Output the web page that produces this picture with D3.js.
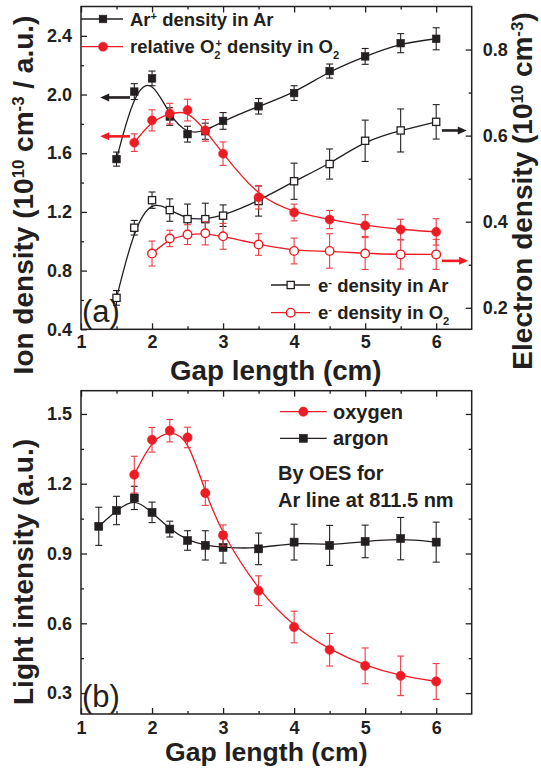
<!DOCTYPE html>
<html><head><meta charset="utf-8">
<script src="https://cdn.jsdelivr.net/npm/d3@7"></script>
<style>body{margin:0;background:#fff}svg{display:block}text{font-family:"Liberation Sans",Arial,Helvetica,sans-serif}</style>
</head><body>
<svg id="c" width="541" height="771"></svg>
<script>
// ---------- DATA ----------
// Panel (a): ion densities (left axis) and electron densities (right axis)
const xArIon = [1.5,1.75,2,2.25,2.5,2.75,3,3.5,4,4.5,5,5.5,6];
const arIon = [1.56,2.02,2.11,1.85,1.73,1.75,1.82,1.92,2.01,2.16,2.26,2.35,2.38];
const arIonErr = [0.048,0.054,0.05,0.06,0.054,0.055,0.057,0.053,0.05,0.048,0.054,0.065,0.075];

const xO2Ion = [1.75,2,2.25,2.5,2.75,3,3.5,4,4.5,5,5.5,6];
const o2Ion = [1.672,1.824,1.87,1.894,1.756,1.597,1.30,1.196,1.148,1.107,1.08,1.064];
const o2IonErr = [0.06,0.072,0.07,0.074,0.074,0.08,0.08,0.057,0.062,0.074,0.07,0.09];

const xEAr = [1.5,1.75,2,2.25,2.5,2.75,3,3.5,4,4.5,5,5.5,6];
const eAr = [0.223,0.386,0.45,0.427,0.406,0.406,0.414,0.448,0.494,0.534,0.588,0.612,0.632];
const eArErr = [0.017,0.017,0.019,0.026,0.035,0.037,0.025,0.035,0.042,0.035,0.048,0.05,0.04];

const xEO2 = [2,2.25,2.5,2.75,3,3.5,4,4.5,5,5.5,6];
const eO2 = [0.326,0.361,0.370,0.373,0.366,0.347,0.332,0.332,0.326,0.324,0.324];
const eO2Err = [0.029,0.019,0.023,0.027,0.03,0.025,0.03,0.04,0.037,0.034,0.035];

// Panel (b): light intensity
const xArgon = [1.25,1.5,1.75,2,2.25,2.5,2.75,3,3.5,4,4.5,5,5.5,6];
const argon = [1.017,1.085,1.139,1.077,1.005,0.956,0.935,0.926,0.92,0.949,0.935,0.952,0.964,0.949];
const argonErr = [0.082,0.061,0.05,0.044,0.034,0.042,0.063,0.067,0.068,0.077,0.086,0.07,0.091,0.086];

const xOxygen = [1.75,2,2.25,2.5,2.75,3,3.5,4,4.5,5,5.5,6];
const oxygen = [1.239,1.389,1.428,1.399,1.16,0.978,0.74,0.584,0.486,0.417,0.374,0.35];
const oxygenErr = [0.079,0.053,0.048,0.044,0.053,0.045,0.064,0.068,0.07,0.077,0.085,0.077];

// Ticks
const xTicks = [1,2,3,4,5,6];
const xMinor = [1.5,2.5,3.5,4.5,5.5];
const yLTicks = [0.4,0.8,1.2,1.6,2.0,2.4];
const yLMinor = [0.6,1.0,1.4,1.8,2.2];
const yRTicks = [0.2,0.4,0.6,0.8];
const yRMinor = [0.3,0.5,0.7];
const yBTicks = [0.3,0.6,0.9,1.2,1.5];
const yBMinor = [0.45,0.75,1.05,1.35];

// Axis-pointing arrows (data units)
const arrows = [
  {axis:"L", from:1.69, to:1.27, y:1.98, color:"black"},
  {axis:"L", from:1.69, to:1.27, y:1.715, color:"red"},
  {axis:"R", from:6.08, to:6.43, y:0.612, color:"black"},
  {axis:"R", from:6.08, to:6.45, y:0.309, color:"red"}
];

// ---------- DRAW ----------
const BLACK = "#231f20", RED = "#ed1c24", RED_ERR = "#ee3b43";
const COL = {black:BLACK, red:RED};
const svg = d3.select("#c");

const x = d3.scaleLinear().domain([1,6.5]).range([81,471.7]);
const yL = d3.scaleLinear().domain([0.4,2.6]).range([329.3,6.5]);
const yR = d3.scaleLinear().domain([0.15,0.9]).range([329.3,6.5]);
const yB = d3.scaleLinear().domain([0.21,1.6]).range([714,390.7]);

function styleAxis(g, fs){
  g.select(".domain").remove();
  g.selectAll(".tick line").attr("stroke",BLACK).attr("stroke-width",1.3);
  g.selectAll(".tick text").attr("fill",BLACK).attr("font-size",fs).attr("font-weight","bold")
    .attr("font-family",'"Liberation Sans",Arial,sans-serif');
}
function panelAxes(yScale, leftTicks, leftMinor, showRightLabels, rTicks, rMinor, rScale, xPad){
  const y0 = yScale.range()[0], y1 = yScale.range()[1];
  const x0 = x.range()[0], x1 = x.range()[1];
  const fmt1 = d3.format(".1f");
  // bottom
  svg.append("g").attr("transform",`translate(0,${y0})`)
    .call(d3.axisBottom(x).tickValues(xTicks).tickSize(-6).tickPadding(xPad).tickFormat(d3.format("d")))
    .call(g=>styleAxis(g,18));
  svg.append("g").attr("transform",`translate(0,${y0})`)
    .call(d3.axisBottom(x).tickValues(xMinor).tickSize(-3).tickFormat(""))
    .call(g=>styleAxis(g,18));
  // top
  svg.append("g").attr("transform",`translate(0,${y1})`)
    .call(d3.axisTop(x).tickValues(xTicks).tickSize(-6).tickFormat(""))
    .call(g=>styleAxis(g,18));
  svg.append("g").attr("transform",`translate(0,${y1})`)
    .call(d3.axisTop(x).tickValues(xMinor).tickSize(-3).tickFormat(""))
    .call(g=>styleAxis(g,18));
  // left
  svg.append("g").attr("transform",`translate(${x0},0)`)
    .call(d3.axisLeft(yScale).tickValues(leftTicks).tickSize(-6).tickPadding(9).tickFormat(fmt1))
    .call(g=>styleAxis(g,18));
  svg.append("g").attr("transform",`translate(${x0},0)`)
    .call(d3.axisLeft(yScale).tickValues(leftMinor).tickSize(-3).tickFormat(""))
    .call(g=>styleAxis(g,18));
  // right
  svg.append("g").attr("transform",`translate(${x1},0)`)
    .call(d3.axisRight(rScale).tickValues(rTicks).tickSize(-6).tickPadding(11).tickFormat(showRightLabels?fmt1:""))
    .call(g=>styleAxis(g,18));
  svg.append("g").attr("transform",`translate(${x1},0)`)
    .call(d3.axisRight(rScale).tickValues(rMinor).tickSize(-3).tickFormat(""))
    .call(g=>styleAxis(g,18));
  // frame
  svg.append("rect").attr("x",x0).attr("y",y1).attr("width",x1-x0).attr("height",y0-y1)
    .attr("fill","none").attr("stroke",BLACK).attr("stroke-width",1.5);
}

function series(xs, ys, errs, yScale, opt){
  const pts = xs.map((d,i)=>({x:d, y:ys[i], e:errs[i]}));
  const g = svg.append("g");
  const line = d3.line().x(d=>x(d.x)).y(d=>yScale(d.y)).curve(d3.curveBasis);
  g.append("path").datum(pts).attr("d",line).attr("fill","none")
    .attr("stroke",opt.color).attr("stroke-width",1.3);
  const eb = g.selectAll(".eb").data(pts).join("g");
  const ec = opt.errColor || opt.color;
  eb.append("line").attr("x1",d=>x(d.x)).attr("x2",d=>x(d.x))
    .attr("y1",d=>yScale(d.y-d.e)).attr("y2",d=>yScale(d.y+d.e)).attr("stroke",ec).attr("stroke-width",1.1);
  [1,-1].forEach(s=>{
    eb.append("line").attr("x1",d=>x(d.x)-3.5).attr("x2",d=>x(d.x)+3.5)
      .attr("y1",d=>yScale(d.y+s*d.e)).attr("y2",d=>yScale(d.y+s*d.e)).attr("stroke",ec).attr("stroke-width",1.1);
  });
  drawMarkers(g, pts.map(d=>[x(d.x), yScale(d.y)]), opt);
}
function drawMarkers(g, xy, opt){
  if(opt.shape==="square"){
    const s = opt.size||7.6;
    g.selectAll(".m").data(xy).join("rect").attr("class","m")
      .attr("x",d=>d[0]-s/2).attr("y",d=>d[1]-s/2).attr("width",s).attr("height",s)
      .attr("fill",opt.open?"#fff":opt.color).attr("stroke",opt.color).attr("stroke-width",opt.open?1.3:0.6);
  } else {
    const r = opt.r||4.4;
    g.selectAll(".m").data(xy).join("circle").attr("class","m")
      .attr("cx",d=>d[0]).attr("cy",d=>d[1]).attr("r",r)
      .attr("fill",opt.open?"#fff":opt.color).attr("stroke",opt.color).attr("stroke-width",opt.open?1.4:0.6);
  }
}

// Panel (a)
panelAxes(yL, yLTicks, yLMinor, true, yRTicks, yRMinor, yR, 6);
series(xArIon, arIon, arIonErr, yL, {shape:"square", color:BLACK});
series(xEAr, eAr, eArErr, yR, {shape:"square", open:true, color:BLACK, size:7.2});
series(xEO2, eO2, eO2Err, yR, {shape:"circle", open:true, color:RED, errColor:RED_ERR, r:4.3});
series(xO2Ion, o2Ion, o2IonErr, yL, {shape:"circle", color:RED, errColor:RED_ERR, r:4.5});

// Panel (b)
panelAxes(yB, yBTicks, yBMinor, false, yBTicks, yBMinor, yB, 7.5);
series(xArgon, argon, argonErr, yB, {shape:"square", color:BLACK, size:8});
series(xOxygen, oxygen, oxygenErr, yB, {shape:"circle", color:RED, errColor:RED_ERR, r:4.6});

// arrows
arrows.forEach(a=>{
  const ys = a.axis==="L" ? yL : yR;
  const xf = x(a.from), xt = x(a.to), yy = ys(a.y);
  const dir = Math.sign(xt-xf), hl = 9, hw = 4;
  svg.append("line").attr("x1",xf).attr("x2",xt-dir*hl+dir).attr("y1",yy).attr("y2",yy)
    .attr("stroke",COL[a.color]).attr("stroke-width",2.6);
  svg.append("path").attr("d",`M${xt},${yy}L${xt-dir*hl},${yy-hw}L${xt-dir*hl},${yy+hw}Z`).attr("fill",COL[a.color]);
});

// ---------- TEXT ----------
const FF = '"Liberation Sans",Arial,sans-serif';
function txt(xp, yp, fs, weight, anchor){
  return svg.append("text").attr("x",xp).attr("y",yp).attr("font-size",fs)
    .attr("font-weight",weight).attr("text-anchor",anchor||"start").attr("fill",BLACK).attr("font-family",FF);
}
function sup(t, s){ t.append("tspan").attr("baseline-shift","super").attr("font-size","60%").text(s); }
function sub(t, s){ t.append("tspan").attr("baseline-shift","sub").attr("font-size","60%").text(s); }
function plain(t, s){ t.append("tspan").text(s); }

// legend (a) top
function legendRow(lx0, lx1, mx, ly, opt){
  svg.append("line").attr("x1",lx0).attr("x2",lx1).attr("y1",ly).attr("y2",ly).attr("stroke",opt.color).attr("stroke-width",1.3);
  drawMarkers(svg.append("g"), [[mx,ly]], opt);
}
legendRow(81,123,103,19,{shape:"square",color:BLACK});
legendRow(81,123,103,46.7,{shape:"circle",color:RED,r:4.5});
let t = txt(130,25.5,18.5,"bold"); plain(t,"Ar"); sup(t,"+"); plain(t," density in Ar");
t = txt(130,53,18.5,"bold"); plain(t,"relative O"); sub(t,"2");
t.append("tspan").attr("dx",-5).attr("baseline-shift","super").attr("font-size","60%").text("+");
plain(t," density in O"); sub(t,"2");

legendRow(271,310,290.7,285,{shape:"square",open:true,color:BLACK,size:7.2});
legendRow(271,310,290.7,312.7,{shape:"circle",open:true,color:RED,r:4.3});
t = txt(318,291.5,18.5,"bold"); plain(t,"e"); sup(t,"-"); plain(t," density in Ar");
t = txt(318,319,18.5,"bold"); plain(t,"e"); sup(t,"-"); plain(t," density in O"); sub(t,"2");

txt(82,322,31,"normal").text("(a)");

// legend (b)
legendRow(280,326.7,303.3,411.7,{shape:"circle",color:RED,r:4.6});
legendRow(280,326.7,303.3,438.3,{shape:"square",color:BLACK,size:8});
txt(333,418.5,20,"bold").text("oxygen");
txt(333,445,20,"bold").text("argon");
txt(278,480,20,"bold").text("By OES for");
txt(278,506.5,20,"bold").text("Ar line at 811.5 nm");
txt(82,707,31,"normal").text("(b)");

// axis titles
txt(275.8,380,27.8,"bold","middle").text("Gap length (cm)");
txt(266.3,761,26.6,"bold","middle").text("Gap length (cm)");

t = svg.append("text").attr("transform","translate(33,195) rotate(-90)").attr("text-anchor","middle")
  .attr("font-size",28).attr("font-weight","bold").attr("fill",BLACK).attr("font-family",FF);
plain(t,"Ion density (10"); sup(t,"10"); plain(t," cm"); sup(t,"-3"); plain(t," / a.u.)");

t = svg.append("text").attr("transform","translate(531.7,191) rotate(-90)").attr("text-anchor","middle")
  .attr("font-size",28).attr("font-weight","bold").attr("fill",BLACK).attr("font-family",FF);
plain(t,"Electron density (10"); sup(t,"10"); plain(t," cm"); sup(t,"-3"); plain(t,")");

t = svg.append("text").attr("transform","translate(33,572) rotate(-90)").attr("text-anchor","middle")
  .attr("font-size",28).attr("font-weight","bold").attr("fill",BLACK).attr("font-family",FF);
plain(t,"Light intensity (a.u.)");
</script>
</body></html>
